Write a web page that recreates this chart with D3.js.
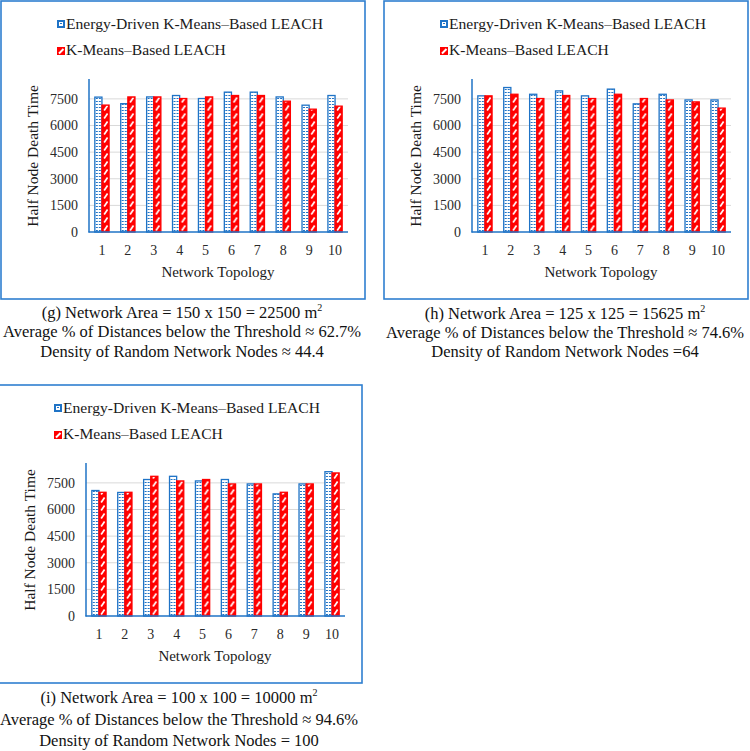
<!DOCTYPE html>
<html>
<head>
<meta charset="utf-8">
<script src="https://cdn.jsdelivr.net/npm/d3@7"></script>
<style>
  body { margin: 0; background: #fff; }
  svg text { font-family: "Liberation Serif", "Times New Roman", "DejaVu Serif", serif; }
</style>
</head>
<body>
<svg id="chart" width="750" height="751"></svg>
<script>
const topologies = ["1", "2", "3", "4", "5", "6", "7", "8", "9", "10"];
const seriesNames = ["Energy-Driven K-Means\u2013Based LEACH", "K-Means\u2013Based LEACH"];
const yTicks = [0, 1500, 3000, 4500, 6000, 7500];

// half node death time per topology
const gEnergy = [7600, 7230, 7610, 7690, 7520, 7880, 7880, 7610, 7145, 7690];
const gKmeans = [7150, 7610, 7610, 7520, 7610, 7690, 7690, 7370, 6920, 7090];
const hEnergy = [7670, 8140, 7760, 7950, 7670, 8050, 7220, 7760, 7440, 7440];
const hKmeans = [7670, 7760, 7520, 7690, 7520, 7760, 7520, 7440, 7330, 6980];
const iEnergy = [7070, 6960, 7690, 7870, 7610, 7690, 7440, 6880, 7440, 8130];
const iKmeans = [6970, 6970, 7870, 7610, 7690, 7440, 7440, 6970, 7440, 8060];

const gCaption = ["(g) Network Area = 150 x 150 = 22500 m", "Average % of Distances below the Threshold \u2248 62.7%", "Density of Random Network Nodes \u2248 44.4"];
const hCaption = ["(h) Network Area = 125 x 125 = 15625 m", "Average % of Distances below the Threshold \u2248 74.6%", "Density of Random Network Nodes =64"];
const iCaption = ["(i) Network Area = 100 x 100 = 10000 m", "Average % of Distances below the Threshold \u2248 94.6%", "Density of Random Network Nodes = 100"];

const BLUE = "#1f73c6";
const RED = "#ff0000";
const FRAME = "#2f7fd0";
const SERIF = "Liberation Serif";

const svg = d3.select("#chart");
const defs = svg.append("defs");

// dotted fill for the blue bars
let pBlue = defs.append("pattern").attr("id", "pBlue")
  .attr("patternUnits", "userSpaceOnUse").attr("width", 3).attr("height", 3);
pBlue.append("rect").attr("width", 3).attr("height", 3).attr("fill", "#fff");
pBlue.append("rect").attr("x", 1).attr("y", 1).attr("width", 2).attr("height", 1).attr("fill", BLUE);

// white slashes on red
let pRed = defs.append("pattern").attr("id", "pRed")
  .attr("patternUnits", "userSpaceOnUse").attr("width", 8).attr("height", 8);
pRed.append("rect").attr("width", 8).attr("height", 8).attr("fill", RED);
pRed.append("path").attr("d", "M2.2,6.6L5.6,1.6").attr("stroke", "#fff").attr("stroke-width", 1.7);

// legend markers
let mBlue = defs.append("pattern").attr("id", "mBlue")
  .attr("patternUnits", "objectBoundingBox").attr("width", 1).attr("height", 1);
mBlue.append("rect").attr("width", 8).attr("height", 8).attr("fill", BLUE);
mBlue.append("rect").attr("x", 2).attr("y", 2).attr("width", 4).attr("height", 4).attr("fill", "#fff");
mBlue.append("rect").attr("x", 3).attr("y", 3).attr("width", 2).attr("height", 1).attr("fill", BLUE);
let mRed = defs.append("pattern").attr("id", "mRed")
  .attr("patternUnits", "objectBoundingBox").attr("width", 1).attr("height", 1);
mRed.append("rect").attr("width", 8).attr("height", 8).attr("fill", RED);
mRed.append("path").attr("d", "M2,6.5L6.5,2").attr("stroke", "#fff").attr("stroke-width", 2);

function drawPanel(ox, oy, energy, kmeans, caption, capY) {
  let g = svg.append("g").attr("transform", "translate(" + ox + "," + oy + ")");

  g.append("rect").attr("x", 1).attr("y", 1).attr("width", 364).attr("height", 298)
    .attr("fill", "none").attr("stroke", FRAME).attr("stroke-width", 1.6);

  // legend
  let leg = g.append("g");
  seriesNames.forEach((name, k) => {
    leg.append("rect").attr("x", 57).attr("y", 20 + k * 27).attr("width", 8).attr("height", 8)
      .attr("fill", k == 0 ? "url(#mBlue)" : "url(#mRed)");
    leg.append("text").attr("x", 66).attr("y", 28.5 + k * 26).attr("font-family", SERIF)
      .attr("font-size", 15.6).attr("fill", "#1a1a1a").text(name);
  });

  let x = d3.scaleBand().domain(topologies).range([89, 348]).paddingInner(0.45).paddingOuter(0.225);
  let y = d3.scaleLinear().domain([0, 8620]).range([232, 79]);
  let bw = x.bandwidth() / 2;

  // gridlines
  g.append("g").selectAll("line").data(yTicks.filter(d => d > 0)).join("line")
    .attr("x1", 89).attr("x2", 348).attr("y1", d => y(d)).attr("y2", d => y(d))
    .attr("stroke", "#d9d9d9").attr("stroke-width", 1);

  let yAxis = g.append("g").attr("transform", "translate(89,0)")
    .call(d3.axisLeft(y).tickValues(yTicks).tickFormat(d3.format("d")).tickSize(0).tickPadding(11));
  yAxis.attr("font-family", SERIF);
  yAxis.select(".domain").remove();
  yAxis.selectAll("text").attr("font-size", 14).attr("fill", "#2a2a2a");

  let xAxis = g.append("g").attr("transform", "translate(0,232)")
    .call(d3.axisBottom(x).tickSize(0).tickPadding(13));
  xAxis.attr("font-family", SERIF);
  xAxis.select(".domain").remove();
  xAxis.selectAll("text").attr("font-size", 14).attr("fill", "#2a2a2a");

  // bars: each bar in its own group so the fill pattern starts at the bar
  let rows = topologies.map((t, i) => ({ t: t, e: energy[i], k: kmeans[i] }));
  let cat = g.append("g").selectAll("g").data(rows).join("g");
  cat.append("g").attr("transform", d => "translate(" + x(d.t) + "," + y(0) + ")")
    .append("rect").attr("x", 0).attr("width", bw).attr("y", d => y(d.e) - y(0)).attr("height", d => y(0) - y(d.e))
    .attr("fill", "url(#pBlue)").attr("stroke", BLUE).attr("stroke-width", 1.3);
  cat.append("g").attr("transform", d => "translate(" + (x(d.t) + bw) + "," + y(0) + ")")
    .append("rect").attr("x", 0).attr("width", bw).attr("y", d => y(d.k) - y(0)).attr("height", d => y(0) - y(d.k))
    .attr("fill", "url(#pRed)").attr("stroke", RED).attr("stroke-width", 1.3);

  // axis lines
  g.append("line").attr("x1", 89).attr("x2", 89).attr("y1", 79).attr("y2", 232.5)
    .attr("stroke", BLUE).attr("stroke-width", 1.5);
  g.append("line").attr("x1", 88.5).attr("x2", 348).attr("y1", 232).attr("y2", 232)
    .attr("stroke", BLUE).attr("stroke-width", 1.5);

  g.append("text").attr("x", 218).attr("y", 277).attr("text-anchor", "middle").attr("font-family", SERIF)
    .attr("font-size", 15).attr("fill", "#1a1a1a").text("Network Topology");
  g.append("text").attr("transform", "translate(38,156) rotate(-90)").attr("text-anchor", "middle")
    .attr("font-family", SERIF).attr("font-size", 15.5).attr("fill", "#1a1a1a").text("Half Node Death Time");

  // caption under the frame
  let c1 = g.append("text").attr("x", 182).attr("y", capY[0]).attr("text-anchor", "middle")
    .attr("font-family", SERIF).attr("font-size", 16.5).attr("fill", "#111");
  c1.append("tspan").text(caption[0]);
  c1.append("tspan").attr("font-size", 10).attr("dy", -7).text("2");
  g.append("text").attr("x", 182).attr("y", capY[1]).attr("text-anchor", "middle")
    .attr("font-family", SERIF).attr("font-size", 16.5).attr("fill", "#111").text(caption[1]);
  g.append("text").attr("x", 182).attr("y", capY[2]).attr("text-anchor", "middle")
    .attr("font-family", SERIF).attr("font-size", 16.5).attr("fill", "#111").text(caption[2]);
}

drawPanel(0, 0, gEnergy, gKmeans, gCaption, [318, 337, 357]);
drawPanel(383, 0, hEnergy, hKmeans, hCaption, [319, 338, 357]);
drawPanel(-3, 384, iEnergy, iKmeans, iCaption, [319, 341, 362]);
</script>
</body>
</html>
